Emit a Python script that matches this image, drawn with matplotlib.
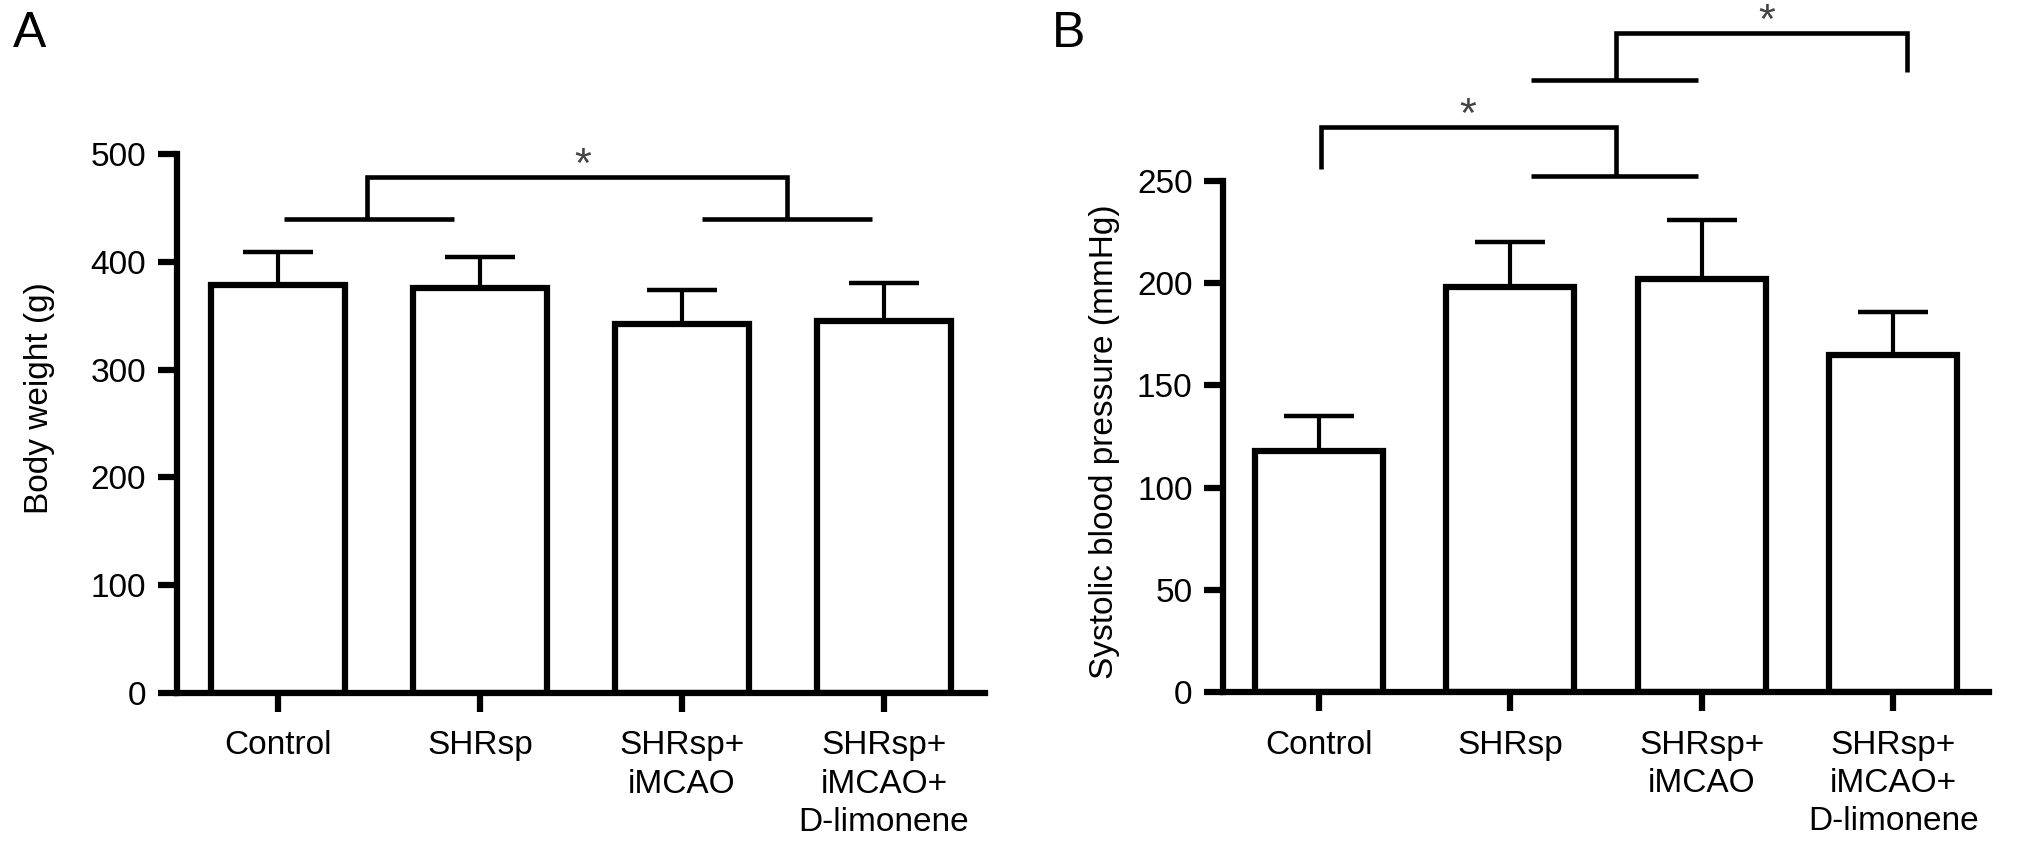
import numpy as np
import matplotlib
matplotlib.use("Agg")
import matplotlib.pyplot as plt

plt.rcParams['font.family'] = ['Liberation Sans', 'DejaVu Sans']

# данные
groups = ["Control", "SHRsp", "SHRsp+\niMCAO", "SHRsp+\niMCAO+\nD-limonene"]
weight_mean = [378, 376, 342, 345]
weight_sem = [31, 28, 32, 35]
sbp_mean = [118, 198, 202, 165]
sbp_sem = [17, 22, 29, 21]

# скобки значимости: (x1, x2, y) группирующие линии, соединитель, звездочка
a_groups = [(0.03, 0.87, 440), (2.10, 2.94, 440)]
a_link = ([0.44, 0.44, 2.52, 2.52], [440, 479, 479, 440])
a_star = (1.51, 479)

b_groups = [(1.11, 1.98, 252.5), (1.11, 1.98, 299.5)]
b_links = [([0.01, 0.01, 1.55, 1.55], [256, 276.5, 276.5, 252.5]),
           ([1.55, 1.55, 3.07, 3.07], [299.5, 322.5, 322.5, 303.4])]
b_stars = [(0.78, 276.5), (2.34, 322.5)]

fig = plt.figure(figsize=(20.31, 8.55), dpi=100)
axA = fig.add_axes([0.0871, 0.1895, 0.3979, 0.6304])
axB = fig.add_axes([0.6022, 0.1906, 0.3771, 0.5977])

x = np.arange(len(groups))
FS = 24
LW = 4.5


def draw_panel(ax, means, errs, ymax, step, ylabel):
    ax.bar(x, means, width=0.667, color='white', edgecolor='black',
           linewidth=LW, zorder=2)
    ax.errorbar(x, means, yerr=[np.zeros(len(errs)), errs], fmt='none',
                ecolor='black', elinewidth=3, capsize=25, capthick=3.2, zorder=1)
    ax.set_xlim(-0.5, 3.5)
    ax.set_ylim(0, ymax)
    ax.set_yticks(np.arange(0, ymax + 1, step))
    ax.set_xticks(x)
    ax.set_xticklabels(groups, fontsize=FS, linespacing=1.3)
    for lab in ax.get_yticklabels():
        lab.set_fontsize(FS)
    for s in ['top', 'right']:
        ax.spines[s].set_visible(False)
    for s in ['left', 'bottom']:
        ax.spines[s].set_linewidth(LW)
    ax.tick_params(length=14, width=LW, pad=8)
    ax.tick_params(axis='x', pad=13)
    ax.set_ylabel(ylabel, fontsize=FS)


def bracket_lines(ax, groups_, links, stars):
    for x1, x2, y in groups_:
        ax.plot([x1, x2], [y, y], color='black', lw=3.3, clip_on=False,
                solid_capstyle='butt')
    for xs, ys in links:
        ax.plot(xs, ys, color='black', lw=3.3, clip_on=False,
                solid_capstyle='butt', solid_joinstyle='miter')
    for sx, sy in stars:
        ax.text(sx, sy, "*", ha='center', va='baseline', fontsize=31,
                color='#444444', clip_on=False)


draw_panel(axA, weight_mean, weight_sem, 500, 100, "Body weight (g)")
draw_panel(axB, sbp_mean, sbp_sem, 250, 50, "Systolic blood pressure (mmHg)")

axA.yaxis.set_label_coords(-0.151, 0.547)
axB.yaxis.set_label_coords(-0.134, 0.489)

bracket_lines(axA, a_groups, [a_link], [a_star])
bracket_lines(axB, b_groups, b_links, b_stars)

fig.text(0.0064, 0.945, "A", fontsize=36, va='baseline')
fig.text(0.518, 0.945, "B", fontsize=36, va='baseline')

fig.savefig("out.png", dpi=100)
